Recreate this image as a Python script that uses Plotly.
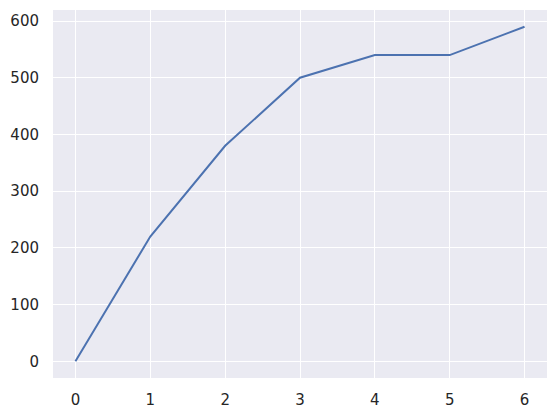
import plotly.graph_objects as go

x_vals = [0, 1, 2, 3, 4, 5, 6]
y_vals = [0, 220, 380, 500, 540, 540, 590]

x_ticks = [0, 1, 2, 3, 4, 5, 6]
y_ticks = [0, 100, 200, 300, 400, 500, 600]

fig = go.Figure(
    go.Scatter(
        x=x_vals,
        y=y_vals,
        mode="lines",
        line=dict(color="#4c72b0", width=2),
    )
)

axis_style = dict(
    showgrid=True,
    gridcolor="white",
    gridwidth=1.4,
    zeroline=False,
    showline=False,
    automargin=False,
    ticks="outside",
    ticklen=8,
    tickcolor="rgba(0,0,0,0)",
    tickfont=dict(family="DejaVu Sans", size=15, color="#262626"),
)

fig.update_layout(
    width=558,
    height=417,
    paper_bgcolor="white",
    plot_bgcolor="#eaeaf2",
    showlegend=False,
    margin=dict(l=53, r=11, t=10, b=39),
    xaxis=dict(range=[-0.3, 6.3], tickvals=x_ticks, **axis_style),
    yaxis=dict(range=[-29.5, 619.5], tickvals=y_ticks, ticklen=10, **{k: v for k, v in axis_style.items() if k != "ticklen"}),
)

# page body has a default 8px margin; drop it so the figure sits at the corner
fig.write_html(
    "out.html",
    config={"displayModeBar": False},
    post_script="document.body.style.margin = '0';",
)
